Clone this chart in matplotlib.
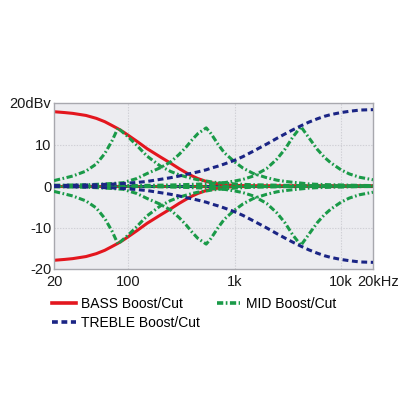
import matplotlib
matplotlib.use("Agg")
import matplotlib.pyplot as plt
from matplotlib.lines import Line2D
import matplotlib.transforms as mtransforms

plt.rcParams['font.family'] = ['Liberation Sans', 'DejaVu Sans']
plt.rcParams['lines.scale_dashes'] = False

# ---- data ----
freq = [20, 25, 30, 40, 50, 60, 70, 80, 90, 100, 120, 150, 200, 250, 300, 350, 400, 450,
        540, 600, 700, 800, 1000, 1200, 1500, 2000, 2500, 3000, 3500, 4200, 5000, 6000,
        7000, 8000, 10000, 12000, 15000, 20000]

bass_boost = [17.9, 17.7, 17.5, 17.0, 16.3, 15.5, 14.6, 13.8, 13.0, 12.2, 10.8, 9.0, 7.0, 5.5,
              4.2, 3.2, 2.4, 1.8, 1.1, 0.8, 0.5, 0.3, 0.15, 0.08, 0.04, 0, 0, 0, 0, 0, 0, 0,
              0, 0, 0, 0, 0, 0]
bass_cut = [-17.9, -17.7, -17.5, -17.0, -16.3, -15.5, -14.6, -13.8, -13.0, -12.2, -10.8, -9.0,
            -7.0, -5.5, -4.2, -3.2, -2.4, -1.8, -1.1, -0.8, -0.5, -0.3, -0.15, -0.08, -0.04,
            0, 0, 0, 0, 0, 0, 0, 0, 0, 0, 0, 0, 0]

treble_boost = [0.1, 0.15, 0.2, 0.25, 0.3, 0.4, 0.45, 0.55, 0.6, 0.7, 0.85, 1.1, 1.6, 2.0, 2.4,
                2.8, 3.1, 3.4, 3.9, 4.3, 4.8, 5.3, 6.2, 7.1, 8.4, 10.1, 11.5, 12.6, 13.5, 14.5,
                15.4, 16.2, 16.8, 17.2, 17.7, 18.0, 18.3, 18.4]
treble_cut = [-0.1, -0.15, -0.2, -0.25, -0.3, -0.4, -0.45, -0.55, -0.6, -0.7, -0.85, -1.1, -1.6,
              -2.0, -2.4, -2.8, -3.1, -3.4, -3.9, -4.3, -4.8, -5.3, -6.2, -7.1, -8.4, -10.1,
              -11.5, -12.6, -13.5, -14.5, -15.4, -16.2, -16.8, -17.2, -17.7, -18.0, -18.3, -18.4]

mid_low_boost = [1.3, 1.9, 2.4, 3.6, 5.3, 7.8, 10.8, 14.0, 12.8, 11.8, 9.8, 7.2, 4.8, 3.5, 2.7,
                 2.2, 1.8, 1.5, 1.2, 1.0, 0.8, 0.7, 0.5, 0.4, 0.3, 0.25, 0.2, 0.15, 0.12, 0.1,
                 0.08, 0.06, 0.05, 0.04, 0.03, 0.02, 0.01, 0]
mid_low_cut = [-1.3, -1.9, -2.4, -3.6, -5.3, -7.8, -10.8, -14.0, -12.8, -11.8, -9.8, -7.2, -4.8,
               -3.5, -2.7, -2.2, -1.8, -1.5, -1.2, -1.0, -0.8, -0.7, -0.5, -0.4, -0.3, -0.25,
               -0.2, -0.15, -0.12, -0.1, -0.08, -0.06, -0.05, -0.04, -0.03, -0.02, -0.01, 0]

mid_mid_boost = [0.2, 0.2, 0.25, 0.3, 0.4, 0.5, 0.6, 0.7, 0.8, 1.2, 1.8, 3.0, 4.4, 5.8, 7.6, 9.4,
                 11.2, 12.6, 14.0, 12.6, 10.0, 8.0, 5.8, 4.3, 3.0, 2.0, 1.4, 1.1, 0.9, 0.7, 0.5,
                 0.4, 0.35, 0.3, 0.25, 0.2, 0.15, 0.1]
mid_mid_cut = [-0.2, -0.2, -0.25, -0.3, -0.4, -0.5, -0.6, -0.7, -0.8, -1.2, -1.8, -3.0, -4.4,
               -5.8, -7.6, -9.4, -11.2, -12.6, -14.0, -12.6, -10.0, -8.0, -5.8, -4.3, -3.0,
               -2.0, -1.4, -1.1, -0.9, -0.7, -0.5, -0.4, -0.35, -0.3, -0.25, -0.2, -0.15, -0.1]

mid_high_boost = [0.05, 0.05, 0.05, 0.06, 0.07, 0.08, 0.09, 0.1, 0.1, 0.1, 0.12, 0.15, 0.2, 0.25,
                  0.3, 0.35, 0.4, 0.45, 0.5, 0.6, 0.7, 0.8, 1.2, 1.6, 2.4, 4.2, 6.5, 9.0, 11.7,
                  14.3, 11.6, 8.8, 6.9, 5.6, 3.9, 2.9, 2.1, 1.5]
mid_high_cut = [-0.05, -0.05, -0.05, -0.06, -0.07, -0.08, -0.09, -0.1, -0.1, -0.1, -0.12, -0.15,
                -0.2, -0.25, -0.3, -0.35, -0.4, -0.45, -0.5, -0.6, -0.7, -0.8, -1.2, -1.6, -2.4,
                -4.2, -6.5, -9.0, -11.7, -14.3, -11.6, -8.8, -6.9, -5.6, -3.9, -2.9, -2.1, -1.5]

flat = [0] * len(freq)

xtick_vals = [20, 100, 1000, 10000, 20000]
xtick_labels = ["20", "100", "1k", "10k", "20kHz"]
ytick_vals = [-20, -10, 0, 10, 20]
ytick_labels = ["-20", "-10", "0", "10", "20dBv"]

RED = "#e3161e"
BLUE = "#1b2585"
GREEN = "#1a9a48"
FS = 10.5
LFS = 10

fig = plt.figure(figsize=(4.16, 4.16), dpi=100)
ax = fig.add_axes([54/416, 1-269/416, 319/416, 166/416])
ax.set_facecolor("#ececf0")
ax.set_xscale("log")
ax.set_xlim(20, 20000)
ax.set_ylim(-20, 20)

for g in [100, 1000, 10000]:
    ax.axvline(g, color="#d0d0d6", lw=0.8, ls=(0, (1, 1)), zorder=0.5)
for g in [-10, 10]:
    ax.axhline(g, color="#d0d0d6", lw=0.8, ls=(0, (1, 1)), zorder=0.5)

lw = 2.2
green_dash = (0, (4.5, 1.8, 1.2, 1.8))
blue_dash = (0, (4.2, 2.6))

# flat settings
ax.plot(freq, flat, color=RED, lw=lw, zorder=2)
ax.plot(freq, flat, color=BLUE, lw=lw, ls=blue_dash, zorder=2)
ax.plot(freq, flat, color=GREEN, lw=lw, ls=green_dash, zorder=3)
ax.plot(freq, flat, color=GREEN, lw=0.9, zorder=3)

ax.plot(freq, bass_boost, color=RED, lw=lw, zorder=2)
ax.plot(freq, bass_cut, color=RED, lw=lw, zorder=2)
for y in [mid_low_boost, mid_low_cut, mid_mid_boost, mid_mid_cut, mid_high_boost, mid_high_cut]:
    ax.plot(freq, y, color=GREEN, lw=lw, ls=green_dash, zorder=3)
ax.plot(freq, treble_boost, color=BLUE, lw=lw, ls=blue_dash, zorder=4)
ax.plot(freq, treble_cut, color=BLUE, lw=lw, ls=blue_dash, zorder=4)

ax.set_xticks(xtick_vals)
ax.set_xticklabels(xtick_labels, fontsize=FS, color="#1a1a1a")
ax.set_yticks(ytick_vals)
ax.set_yticklabels(ytick_labels, fontsize=FS, color="#1a1a1a")
ax.minorticks_off()
ax.tick_params(axis="both", length=0)
ax.tick_params(axis="x", pad=4)
ax.tick_params(axis="y", pad=2)

last = ax.get_xticklabels()[-1]
last.set_transform(last.get_transform() + mtransforms.ScaledTranslation(5/100, 0, fig.dpi_scale_trans))

for s in ax.spines.values():
    s.set_color("#a8a8ae")
    s.set_linewidth(1.0)

handles = [
    Line2D([], [], color=RED, lw=2.6),
    Line2D([], [], color=BLUE, lw=2.6, ls=blue_dash),
    Line2D([], [], color=GREEN, lw=2.6, ls=green_dash),
]
labels = ["BASS Boost/Cut", "TREBLE Boost/Cut", "MID Boost/Cut"]
fig.legend(handles, labels, loc="upper left", bbox_to_anchor=(52/416, 1-297/416),
           ncol=2, frameon=False, fontsize=LFS, borderpad=0, borderaxespad=0,
           handlelength=1.7, handletextpad=0.4, columnspacing=1.2, labelspacing=0.35)

fig.savefig("out.png", dpi=100, facecolor="white")
